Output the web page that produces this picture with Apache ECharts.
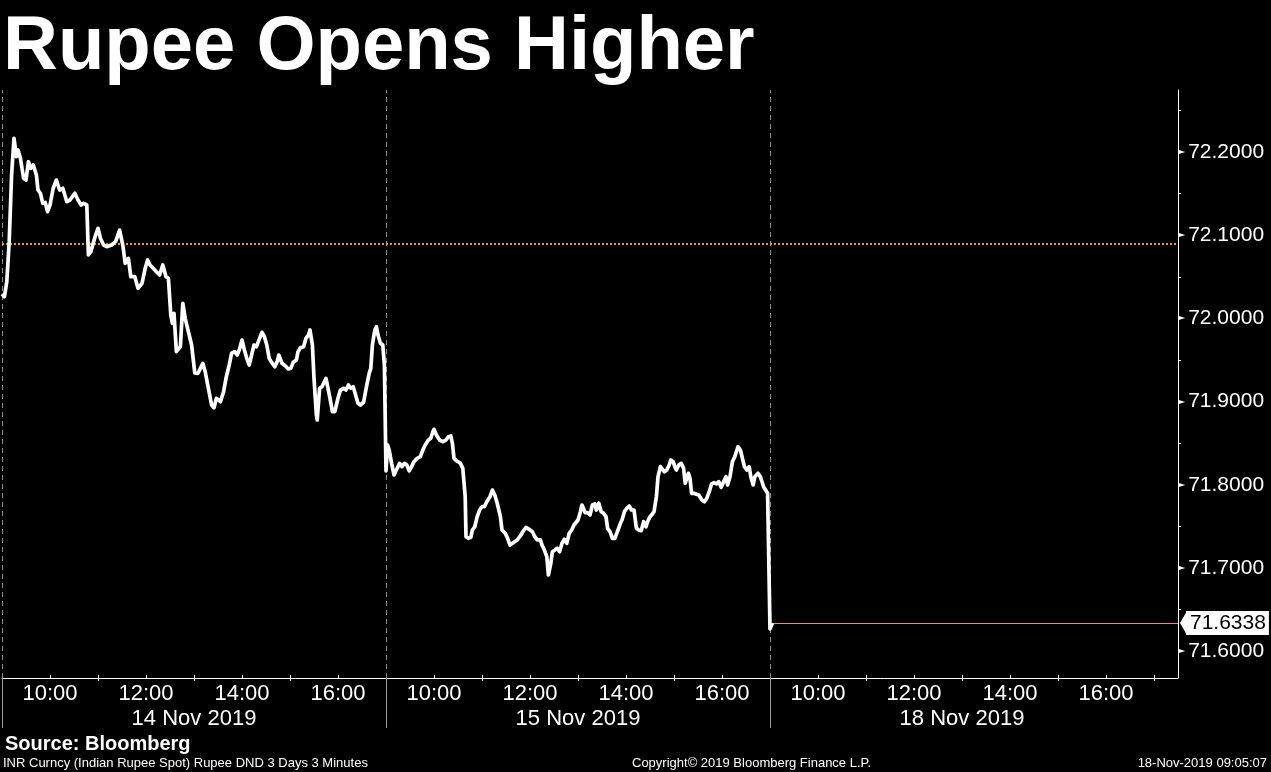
<!DOCTYPE html>
<html><head><meta charset="utf-8">
<script src="https://cdn.jsdelivr.net/npm/echarts@6/dist/echarts.min.js"></script>
<style>html,body{margin:0;padding:0;background:#000}#c{width:1271px;height:772px}</style>
</head><body><div id="c"></div>
<script>
// ---- data ----
const titleText = 'Rupee Opens Higher';
const dayLabels = ['14 Nov 2019', '15 Nov 2019', '18 Nov 2019'];
const hourLabels = ['10:00', '12:00', '14:00', '16:00'];
const yTickLabels = [71.6, 71.7, 71.8, 71.9, 72.0, 72.1, 72.2];
const prevClose = 72.09;
const lastPrice = 71.6338;

// minutes after 09:00 for each trading day (3-minute bars, positions)
const day1Minutes = [0,3,6,9,12,15,18,20,23,27,30,33,36,39,43,45,48,51,54,57,60,64,68,72,76,81,85,91,95,99,
  102,106,108,111,114,117,120,123,127,131,137,142,147,151,154,158,161,166,170,175,179,182,185,189,193,197,201,205,208,211,
  213,215,218,223,226,229,233,237,241,245,251,254,258,262,265,268,273,277,280,284,287,291,294,297,300,303,306,309,312,315,
  318,322,325,328,331,334,337,341,344,346,350,354,358,361,364,368,370,373,377,380,383,385,388,390,393,394,397,400,402,405,
  407,410,413,416,420,423,427,430,433,436,439,442,445,448,452,456,459,461,463,466,468,470,473,476,478];
const day1Values = [72.0293,72.0261,72.0441,72.0922,72.1724,72.2165,72.1944,72.2024,72.1924,72.1684,
  72.1663,72.1883,72.1804,72.1844,72.1724,72.1543,72.1504,72.1383,72.1395,72.1282,
  72.1363,72.1564,72.1663,72.1543,72.1564,72.1403,72.1423,72.1504,72.1423,72.1363,
  72.1383,72.1363,72.0762,72.0802,72.0903,72.1002,72.1083,72.0963,72.0882,72.0862,
  72.0882,72.0922,72.1062,72.0882,72.0662,72.0722,72.0501,72.0501,72.0362,72.0422,
  72.0602,72.0702,72.0642,72.0602,72.0561,72.0522,72.0642,72.0501,72.0482,72.0041,
  71.9941,72.0061,71.9600,71.9660,72.0181,72.0001,71.9840,71.9680,71.9344,71.9340,
  71.9460,71.9359,71.9160,71.8959,71.8927,71.9040,71.8999,71.9119,71.9280,71.9440,
  71.9581,71.9600,71.9560,71.9632,71.9740,71.9620,71.9520,71.9440,71.9560,71.9680,
  71.9660,71.9761,71.9833,71.9780,71.9680,71.9520,71.9472,71.9419,71.9480,71.9560,
  71.9460,71.9431,71.9392,71.9400,71.9472,71.9500,71.9600,71.9648,71.9660,71.9761,
  71.9800,71.9861,71.9680,71.9280,71.8839,71.8779,71.9160,71.9179,71.9220,71.9280,
  71.9260,71.9040,71.8879,71.8879,71.9040,71.9139,71.9160,71.9139,71.9200,71.9160,
  71.9179,71.9079,71.8980,71.8959,71.8992,71.9200,71.9340,71.9400,71.9680,71.9861,
  71.9900,71.9800,71.9701,71.9680,71.9440];

const day2Minutes = [0,2,4,7,10,13,17,20,23,26,29,32,35,39,43,46,49,53,56,58,
  60,63,67,71,75,78,81,83,85,88,93,96,99,100,103,106,108,111,114,117,
  120,123,126,130,133,136,139,143,145,149,152,155,159,164,168,171,175,179,183,186,
  189,193,195,198,201,203,206,208,211,214,217,220,223,226,229,232,235,240,243,245,
  249,252,255,258,261,263,266,269,272,275,277,280,283,286,290,293,295,298,301,304,
  307,310,313,316,319,322,325,327,330,333,335,338,340,343,345,348,351,354,356,359,
  361,363,366,369,372,374,376,378,380,382,385,388,391,395,398,401,404,407,410,413,
  416,419,422,425,427,430,433,436,440,443,445,448,451,454,456,459,461,465,468,470,
  472,475,477];
const day2Values = [71.8166,71.8478,71.8418,71.8258,71.8118,71.8178,71.8258,71.8218,71.8258,71.8238,
  71.8169,71.8218,71.8278,71.8318,71.8338,71.8418,71.8478,71.8538,71.8559,71.8619,
  71.8667,71.8599,71.8538,71.8518,71.8538,71.8578,71.8587,71.8499,71.8318,71.8290,
  71.8258,71.8198,71.7857,71.7376,71.7357,71.7369,71.7457,71.7496,71.7617,71.7697,
  71.7737,71.7737,71.7797,71.7857,71.7937,71.7877,71.7778,71.7617,71.7457,71.7417,
  71.7357,71.7276,71.7304,71.7337,71.7385,71.7436,71.7489,71.7465,71.7436,71.7376,
  71.7337,71.7337,71.7276,71.7216,71.7136,71.6916,71.7056,71.7196,71.7216,71.7237,
  71.7196,71.7297,71.7345,71.7297,71.7417,71.7457,71.7517,71.7577,71.7677,71.7757,
  71.7665,71.7665,71.7637,71.7757,71.7769,71.7697,71.7778,71.7677,71.7657,71.7617,
  71.7477,71.7436,71.7357,71.7357,71.7457,71.7537,71.7577,71.7677,71.7718,71.7745,
  71.7697,71.7697,71.7477,71.7457,71.7448,71.7556,71.7496,71.7556,71.7617,71.7649,
  71.7677,71.7857,71.8097,71.8218,71.8238,71.8157,71.8178,71.8238,71.8298,71.8278,
  71.8218,71.8178,71.8238,71.8258,71.8198,71.8018,71.7998,71.8138,71.8078,71.7898,
  71.7898,71.7886,71.7877,71.7817,71.7797,71.7838,71.7917,71.8010,71.8025,71.8010,
  71.8037,71.7970,71.8037,71.8097,71.7998,71.8097,71.8278,71.8338,71.8458,71.8418,
  71.8338,71.8218,71.8178,71.8218,71.8097,71.7998,71.8097,71.8138,71.8097,71.8037,
  71.7977,71.7929,71.7898];

const day3Minutes = [0, 3];
const day3Values = [71.6267, 71.6338];

// ---- build ----
const DAY = 480;               // 09:00 - 17:00
const X_MAX = 2 * DAY + 510;   // day 3 shown to 17:30
const days = [[day1Minutes, day1Values], [day2Minutes, day2Values], [day3Minutes, day3Values]];
const lineData = [];
days.forEach(([mins, vals], d) => mins.forEach((m, i) => lineData.push([d * DAY + m, vals[i]])));

const labelHours = [60, 180, 300, 420];
const hourLabelVals = [], hourTickVals = [], oddTickVals = [];
for (let d = 0; d < 3; d++) {
  labelHours.forEach(m => hourLabelVals.push(d * DAY + m));
  for (let h = 1; h < 8; h++) hourTickVals.push(d * DAY + h * 60);
  [120, 240, 360].forEach(m => oddTickVals.push(d * DAY + m));
}
hourTickVals.push(2 * DAY + 480);
oddTickVals.push(2 * DAY + 480);
const dayLabelVals = dayLabels.map((_, d) => d * DAY + DAY / 2);
const dayStartVals = dayLabels.map((_, d) => d * DAY);
const yMinorVals = yTickLabels.map(v => +(v + 0.05).toFixed(2)).filter(v => v < 72.274);

const FONT = 'Liberation Sans';
const chart = echarts.init(document.getElementById('c'), null, {renderer: 'canvas'});
const hiddenAxis = {show: true, axisLine: {show: false, onZero: false}, axisLabel: {show: false}, splitLine: {show: false}};

chart.setOption({
  backgroundColor: '#000',
  animation: false,
  title: [
    {text: titleText, left: 3, top: 10, padding: 0,
     textStyle: {color: '#fff', fontSize: 76, fontWeight: 'bold', fontFamily: FONT}},
    {text: 'Source: Bloomberg', left: 5, top: 734, padding: 0,
     textStyle: {color: '#fff', fontSize: 20, fontWeight: 'bold', fontFamily: FONT}},
    {text: 'INR Curncy (Indian Rupee Spot) Rupee DND 3 Days 3 Minutes', left: 3, top: 757, padding: 0,
     textStyle: {color: '#fff', fontSize: 13, fontWeight: 'normal', fontFamily: FONT}},
    {text: 'Copyright\u00a9 2019 Bloomberg Finance L.P.', left: 632, top: 757, padding: 0,
     textStyle: {color: '#fff', fontSize: 13, fontWeight: 'normal', fontFamily: FONT}},
    {text: '18-Nov-2019 09:05:07', right: 4, top: 757, padding: 0,
     textStyle: {color: '#fff', fontSize: 13, fontWeight: 'normal', fontFamily: FONT}}
  ],
  grid: {left: 2, right: 93, top: 90, bottom: 94, containLabel: false},
  xAxis: [
    {type: 'value', min: 0, max: X_MAX, position: 'bottom',
     axisLine: {show: true, onZero: false, lineStyle: {color: '#fff', width: 1}},
     axisTick: {show: true, inside: true, length: 3, customValues: hourTickVals, lineStyle: {color: '#fff'}},
     axisLabel: {show: true, customValues: hourLabelVals, margin: 5, color: '#fff', fontSize: 22, fontFamily: FONT,
       formatter: v => hourLabels[labelHours.indexOf(v % DAY)]},
     splitLine: {show: false}},
    Object.assign({type: 'value', min: 0, max: X_MAX, position: 'bottom'}, hiddenAxis, {
     axisTick: {show: true, inside: false, length: 50, customValues: dayStartVals, lineStyle: {color: '#9a9a9a'}},
     axisLabel: {show: true, customValues: dayLabelVals, margin: 30, color: '#fff', fontSize: 22, fontFamily: FONT,
       formatter: v => dayLabels[Math.floor(v / DAY)]}}),
    Object.assign({type: 'value', min: 0, max: X_MAX, position: 'bottom'}, hiddenAxis, {
     axisTick: {show: true, inside: false, length: 3, customValues: oddTickVals, lineStyle: {color: '#fff'}}})
  ],
  yAxis: {
    type: 'value', position: 'right',
    min: 72.2 - 526 / 832, max: 72.2 + 62 / 832,
    axisLine: {show: true, onZero: false, lineStyle: {color: '#fff', width: 1}},
    axisTick: {show: true, inside: false, length: 3, customValues: yMinorVals, lineStyle: {color: '#fff'}},
    axisLabel: {show: true, customValues: yTickLabels, margin: 1,
      formatter: v => '{t|\u25BA}{v|' + v.toFixed(4) + '}',
      rich: {t: {fontSize: 8, color: '#fff', fontFamily: 'DejaVu Sans', padding: [0, 3, 0, 0]},
             v: {fontSize: 21, color: '#fff', fontFamily: FONT}}},
    splitLine: {show: false}
  },
  series: [{
    type: 'line', data: lineData, showSymbol: false, clip: false, silent: true,
    lineStyle: {color: '#fff', width: 3.7, join: 'round'},
    z: 5,
    markLine: {
      silent: true, symbol: 'none', animation: false,
      label: {show: false},
      data: [
        {xAxis: dayStartVals[0], lineStyle: {color: '#8c8c8c', type: [5, 4], width: 1}},
        {xAxis: dayStartVals[1], lineStyle: {color: '#8c8c8c', type: [5, 4], width: 1}},
        {xAxis: dayStartVals[2], lineStyle: {color: '#8c8c8c', type: [5, 4], width: 1}},
        {yAxis: prevClose, lineStyle: {color: '#f5962a', type: [2, 2], width: 2}},
        [{coord: [2 * DAY + 3, lastPrice], lineStyle: {color: '#e8906e', type: 'solid', width: 1},
          label: {show: true, position: 'end', distance: 8, formatter: lastPrice.toFixed(4),
                  backgroundColor: '#fff', color: '#000', fontSize: 21, fontFamily: FONT, padding: [2, 3, 1, 4]}},
         {coord: [X_MAX, lastPrice]}]
      ]
    },
    markPoint: {
      silent: true, animation: false,
      data: [{coord: [X_MAX, lastPrice], symbol: 'path://M0,12L7,0L7,24Z', symbolSize: [7, 24],
              symbolOffset: [5.5, 0], itemStyle: {color: '#fff'}, label: {show: false}}]
    }
  }]
});
</script></body></html>
